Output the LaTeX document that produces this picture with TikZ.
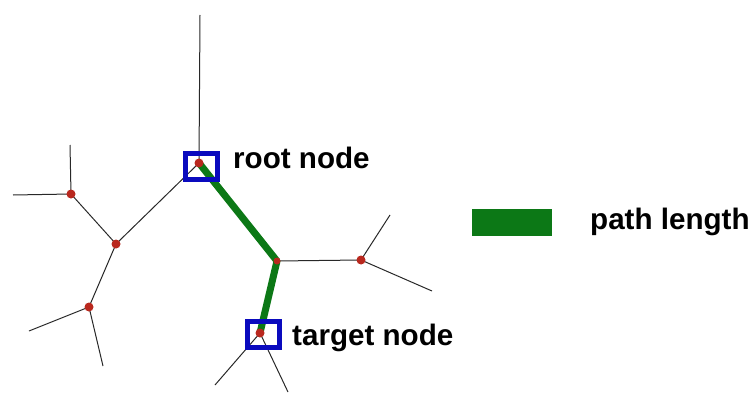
\documentclass[tikz,border=0pt]{standalone}
\usepackage{fontspec}
\setmainfont{Liberation Sans}
\definecolor{pathgreen}{RGB}{12,120,22}
\definecolor{boxblue}{RGB}{10,10,190}
\definecolor{dotred}{RGB}{185,40,30}
\definecolor{edgegray}{RGB}{40,40,40}
\begin{document}
\begin{tikzpicture}[x=1pt,y=-1pt,
  dot/.style={circle,fill=dotred,inner sep=0pt,minimum size=9pt},
  selbox/.style={draw=boxblue,line width=5pt,rectangle,inner sep=0pt,minimum width=32pt,minimum height=26pt},
  edge/.style={draw=edgegray,line width=1pt},
  plen/.style={draw=pathgreen,line width=7pt,line join=round},
  lbl/.style={anchor=base west,inner sep=0pt,font=\fontsize{29.6}{33}\selectfont\bfseries}]
\useasboundingbox (0,0) rectangle (753,396);
% tree nodes
\coordinate (R) at (199,163);
\coordinate (A) at (116,244);
\coordinate (B) at (71,194);
\coordinate (C) at (89,307);
\coordinate (D) at (277,261);
\coordinate (E) at (361,260);
\coordinate (T) at (260,333);
% leaves
\coordinate (l1) at (200,15);
\coordinate (l2) at (13,195);
\coordinate (l3) at (70,145);
\coordinate (l4) at (29,331);
\coordinate (l5) at (103,366);
\coordinate (l6) at (390,215);
\coordinate (l7) at (432,291);
\coordinate (l8) at (215,385);
\coordinate (l9) at (288,392);
% thin edges
\path[edge] (R) -- (l1);
\path[edge] (R) -- (A);
\path[edge] (A) -- (B);
\path[edge] (B) -- (l2);
\path[edge] (B) -- (l3);
\path[edge] (A) -- (C);
\path[edge] (C) -- (l4);
\path[edge] (C) -- (l5);
\path[edge] (D) -- (E);
\path[edge] (E) -- (l6);
\path[edge] (E) -- (l7);
\path[edge] (T) -- (l8);
\path[edge] (T) -- (l9);
% path length
\path[plen] (R) -- (D) -- (T);
% dots
\node[dot] (nR) at (R) {};
\node[dot] (nA) at (A) {};
\node[dot] (nB) at (B) {};
\node[dot] (nC) at (C) {};
\node[dot,minimum size=7pt] (nD) at (D) {};
\node[dot] (nE) at (E) {};
\node[dot] (nT) at (T) {};
% selection boxes
\node[selbox] (bR) at (201.5,166.5) {};
\node[selbox] (bT) at (263.5,334) {};
% labels
\node[lbl] (tR) at (233,168) {root node};
\node[lbl] (tT) at (292,345) {target node};
% legend
\node[fill=pathgreen,inner sep=0pt,minimum width=80pt,minimum height=27pt] (leg) at (512,222.5) {};
\node[lbl] (tL) at (590,229) {path length};
\end{tikzpicture}
\end{document}
